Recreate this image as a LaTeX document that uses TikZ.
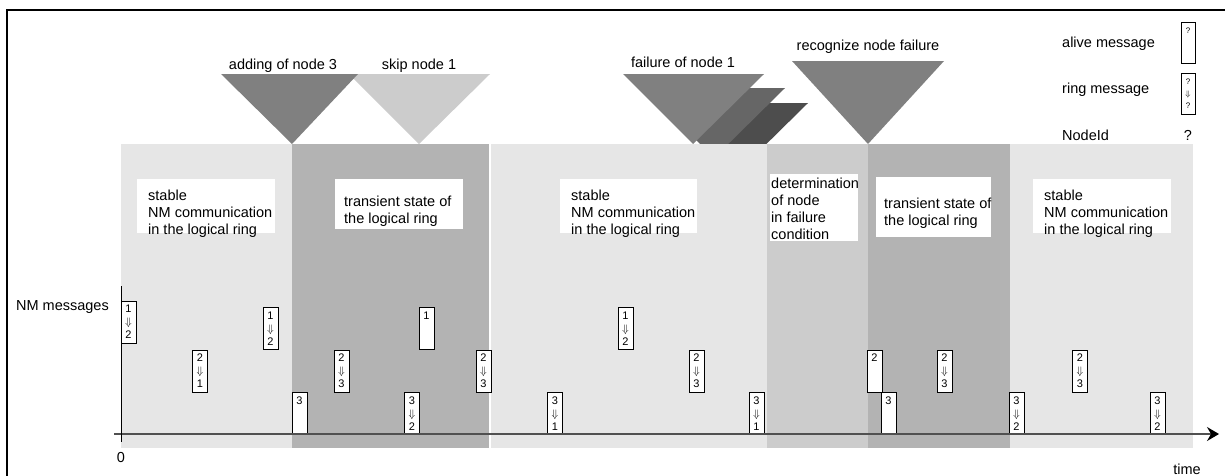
\documentclass[tikz,border=0pt]{standalone}
\usepackage{fontspec}
\setmainfont{Liberation Sans}
\usetikzlibrary{arrows.meta,positioning}
\definecolor{stablegray}{RGB}{230,230,230}
\definecolor{failgray}{RGB}{204,204,204}
\definecolor{transgray}{RGB}{179,179,179}
\definecolor{eventgray}{RGB}{128,128,128}
\definecolor{skipgray}{RGB}{204,204,204}
\definecolor{shadowa}{RGB}{102,102,102}
\definecolor{shadowb}{RGB}{77,77,77}
\definecolor{axisgray}{RGB}{80,80,80}

\begin{document}
\begin{tikzpicture}[x=1pt, y=-1pt,
  lbl/.style={font=\fontsize{14.5}{17}\selectfont, inner sep=0pt},
  phase/.style={lbl, anchor=north west, align=left},
  msgbox/.style={draw, fill=white, inner sep=0pt, minimum width=15pt,
    minimum height=42pt, align=center, font=\fontsize{11}{13}\selectfont,
    execute at begin node={\rule{0pt}{12pt}}},
  legbox/.style={draw, fill=white, inner sep=0pt, minimum width=14pt,
    minimum height=41pt, align=center, font=\fontsize{8}{12}\selectfont,
    execute at begin node={\rule{0pt}{10pt}}}]
  \useasboundingbox (0,0) rectangle (1225,475);
  %% frame
  \draw[line width=2pt] (7,476) -- (7,10) -- (1226,10);
  %% events
  \fill[skipgray] (349,74) -- (490,74) -- (419,144) -- cycle;
  \fill[eventgray] (221,74) -- (358,74) -- (292,144) -- cycle;
  \fill[shadowb] (667,103) -- (808,103) -- (737,173) -- cycle;
  \fill[shadowa] (644,88) -- (785,88) -- (714,158) -- cycle;
  \fill[eventgray] (623,74) -- (764,74) -- (693,144) -- cycle;
  \fill[eventgray] (792,61) -- (944,61) -- (868,144) -- cycle;
  \node[lbl] (add) at (283,66) {adding of node 3};
  \node[lbl] (skip) at (419,66) {skip node 1};
  \node[lbl] (fail) at (683,62) {failure of node 1};
  \node[lbl] (recog) at (868,47) {recognize node failure};
  %% phases
  \foreach \a/\b/\c in {121/292/stablegray, 292/489/transgray, 491/767/stablegray,
                        767/868/failgray, 868/1010/transgray, 1010/1193/stablegray}
    \fill[\c] (\a,144) rectangle (\b,448);
  \foreach \a/\b/\c/\d in {137/179/275/233, 335/179/463/229, 560/179/697/233,
                           770/174/858/241, 876/177/991/237, 1033/179/1171/233}
    \fill[white] (\a,\b) rectangle (\c,\d);
  \node[phase] (stable1) at (148,190) {stable\\NM communication\\in the logical ring};
  \node[phase] (trans1) at (344,196) {transient state of\\the logical ring};
  \node[phase] (stable2) at (571,190) {stable\\NM communication\\in the logical ring};
  \node[phase] (determ) at (771,178) {determination\\of node\\in failure\\condition};
  \node[phase] (trans2) at (884,198) {transient state of\\the logical ring};
  \node[phase] (stable3) at (1044,190) {stable\\NM communication\\in the logical ring};
  %% legend
  \node[lbl, anchor=west] (alivelbl) at (1062,44) {alive message};
  \node[lbl, anchor=west] (ringlbl) at (1062,90) {ring message};
  \node[lbl, anchor=west] (nodeidlbl) at (1062,135) {NodeId};
  \node[legbox] (alivekey) at (1188,43) {?\\\phantom{$\Downarrow$}\\\phantom{?}};
  \node[legbox] (ringkey) at (1188,93.5) {?\\$\Downarrow$\\?};
  \node[lbl] (nodeidkey) at (1188,135) {?};
  %% messages
  \foreach \x/\y/\src/\dst [count=\i] in {128.5/322/1/2, 200/371/2/1, 270.5/328.5/1/2,
      341.5/371/2/3, 412/413.5/3/2, 483.5/371/2/3, 555/413.5/3/1, 625.5/328.5/1/2,
      696.5/371/2/3, 756.5/413.5/3/1, 944.5/371/2/3, 1016.5/413.5/3/2,
      1080/371/2/3, 1157.5/413.5/3/2}
    \node[msgbox] (ring\i) at (\x,\y) {\src\\$\Downarrow$\\\dst};
  \foreach \x/\y/\src [count=\i] in {299.5/413.5/3, 426.5/328.5/1, 874.5/371/2, 888.5/413.5/3}
    \node[msgbox] (alive\i) at (\x,\y) {\src\\\phantom{$\Downarrow$}\\\phantom{0}};
  %% axes
  \coordinate (xstart) at (114,434);
  \coordinate (xend) at (1219,434);
  \coordinate (ytop) at (121,286);
  \coordinate (ybot) at (121,442);
  \draw[axisgray, line width=1.2pt, -{Stealth[black,length=12pt,width=14pt,inset=4pt]}]
    (xstart) -- (xend);
  \draw (ytop) -- (ybot);
  \node[lbl, anchor=east] (ylabel) at (109,307) {NM messages};
  \node[lbl] (zero) at (121,457) {0};
  \node[lbl] (tlabel) at (1187,469) {time};
\end{tikzpicture}
\end{document}
